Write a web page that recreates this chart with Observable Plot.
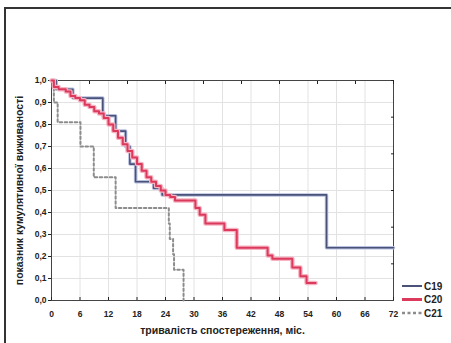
<!DOCTYPE html>
<html>
<head>
<meta charset="utf-8">
<script src="https://cdn.jsdelivr.net/npm/d3@7"></script>
<script src="https://cdn.jsdelivr.net/npm/@observablehq/plot@0.6"></script>
<style>
  html, body { margin: 0; padding: 0; background: #fff; }
  #wrap { position: relative; width: 451px; height: 343px; overflow: hidden; }
  #border { position: absolute; left: 4px; top: 7px; width: 460px; height: 400px; border-left: 2px solid #333; border-top: 2px solid #333; box-sizing: border-box; }
  #legend { position: absolute; left: 400px; top: 278px; }
</style>
</head>
<body>
<div id="wrap"><div id="border"></div><div id="chart"></div><div id="legend"></div></div>
<script>
// Series data (months, cumulative survival)
const c19Months = [0, 1, 4.5, 10.8, 13.5, 15.6, 16.5, 17.7, 21.5, 23.3, 57.9, 72];
const c19Values = [1.0, 0.96, 0.92, 0.84, 0.77, 0.70, 0.62, 0.54, 0.51, 0.48, 0.24, 0.24];

const c20Months = [0, 0.5, 1.5, 3, 4, 5, 6, 7, 8, 9, 10, 11, 12, 13, 14, 15, 16, 17, 18, 19, 20, 21, 22, 23, 24, 25, 26, 30.3, 31.2, 32.4, 36.4, 39, 45.5, 46.5, 50.7, 52.4, 53.7, 55.6];
const c20Values = [1.0, 0.97, 0.96, 0.95, 0.93, 0.92, 0.91, 0.89, 0.88, 0.86, 0.85, 0.83, 0.80, 0.77, 0.74, 0.71, 0.68, 0.65, 0.62, 0.59, 0.56, 0.54, 0.52, 0.50, 0.48, 0.47, 0.455, 0.42, 0.39, 0.35, 0.32, 0.24, 0.205, 0.19, 0.15, 0.11, 0.08, 0.08];

const c21Months = [0, 0.5, 1.3, 6.1, 8.9, 13.5, 24.7, 24.9, 25.6, 25.8, 27.8];
const c21Values = [1.0, 0.9, 0.81, 0.70, 0.56, 0.42, 0.35, 0.28, 0.21, 0.14, 0.0];

const seriesNames = ["C19", "C20", "C21"];
const xTicks = [0, 6, 12, 18, 24, 30, 36, 42, 48, 54, 60, 66, 72];
const yTicks = [0, 0.1, 0.2, 0.3, 0.4, 0.5, 0.6, 0.7, 0.8, 0.9, 1.0];
const topTicks = [8, 16, 24, 32, 40, 48, 56, 64, 72];
const rightTicks = [1/6, 2/6, 3/6, 4/6, 5/6, 1];
const xLabel = "тривалість спостереження, міс.";
const yLabel = "показник кумулятивної виживаності";

const toRows = (m, v, s) => m.map((t, i) => ({t, v: v[i], s}));
const c19 = toRows(c19Months, c19Values, "C19");
const c20 = toRows(c20Months, c20Values, "C20");
const c21 = toRows(c21Months, c21Values, "C21");
const fmtY = d => d.toFixed(1).replace(".", ",");

const chart = Plot.plot({
  width: 451, height: 343,
  marginLeft: 51, marginRight: 58, marginTop: 80, marginBottom: 43,
  style: {fontFamily: "'Liberation Sans', Arial, sans-serif", fontSize: "8.5px", color: "#222", background: "transparent"},
  x: {domain: [0, 72]},
  y: {domain: [0, 1]},
  marks: [
    Plot.gridX(xTicks, {stroke: "#e2e2e2", strokeOpacity: 1}),
    Plot.gridY(yTicks, {stroke: "#e2e2e2", strokeOpacity: 1}),
    Plot.frame({stroke: "#444", strokeWidth: 1}),
    Plot.axisX(xTicks, {anchor: "bottom", tickSize: -3, tickPadding: 13, tickFormat: d => String(d), fontWeight: "bold", label: null}),
    Plot.axisY(yTicks, {anchor: "left", tickSize: 3, tickPadding: 2, tickFormat: fmtY, fontWeight: "bold", label: null}),
    Plot.axisX(topTicks, {anchor: "top", tickSize: -3, tickFormat: () => "", label: null}),
    Plot.axisY(rightTicks, {anchor: "right", tickSize: -3, tickFormat: () => "", label: null}),
    Plot.text([xLabel], {frameAnchor: "bottom", textAnchor: "middle", dy: 33, fontSize: 10.5, fontWeight: "bold", fill: "#222"}),
    Plot.text([yLabel], {frameAnchor: "left", textAnchor: "middle", rotate: -90, dx: -32, fontSize: 10.5, fontWeight: "bold", fill: "#222"}),
    // C21 dashed gray
    Plot.line(c21, {x: "t", y: "v", curve: "step-after", stroke: "#8c8c8c", strokeWidth: 2, strokeDasharray: "2.5,2.5"}),
    // C19 halo + line
    Plot.line(c19, {x: "t", y: "v", curve: "step-after", stroke: "#b8c0e0", strokeWidth: 3.5}),
    Plot.line(c19, {x: "t", y: "v", curve: "step-after", stroke: "#4a5278", strokeWidth: 1.6}),
    // C20 halo + line
    Plot.line(c20, {x: "t", y: "v", curve: "step-after", stroke: "#f6b3c2", strokeWidth: 4.5}),
    Plot.line(c20, {x: "t", y: "v", curve: "step-after", stroke: "#dc3a5c", strokeWidth: 2})
  ]
});
document.getElementById("chart").appendChild(chart);

// Legend
const styles = {
  C19: {stroke: "#4a5278", width: 2, dash: null},
  C20: {stroke: "#dc3a5c", width: 3, dash: null},
  C21: {stroke: "#8c8c8c", width: 2.5, dash: "3,2.5"}
};
const lg = d3.select("#legend").append("svg").attr("width", 51).attr("height", 44)
  .style("font-family", "'Liberation Sans', Arial, sans-serif");
seriesNames.forEach((name, i) => {
  const y = 8 + i * 13.5;
  const s = styles[name];
  lg.append("line").attr("x1", 2).attr("x2", 22).attr("y1", y).attr("y2", y)
    .attr("stroke", s.stroke).attr("stroke-width", s.width).attr("stroke-dasharray", s.dash);
  lg.append("text").attr("x", 24).attr("y", y + 3.5).attr("font-size", 10).attr("font-weight", "bold")
    .attr("fill", "#222").text(name);
});
</script>
</body>
</html>
